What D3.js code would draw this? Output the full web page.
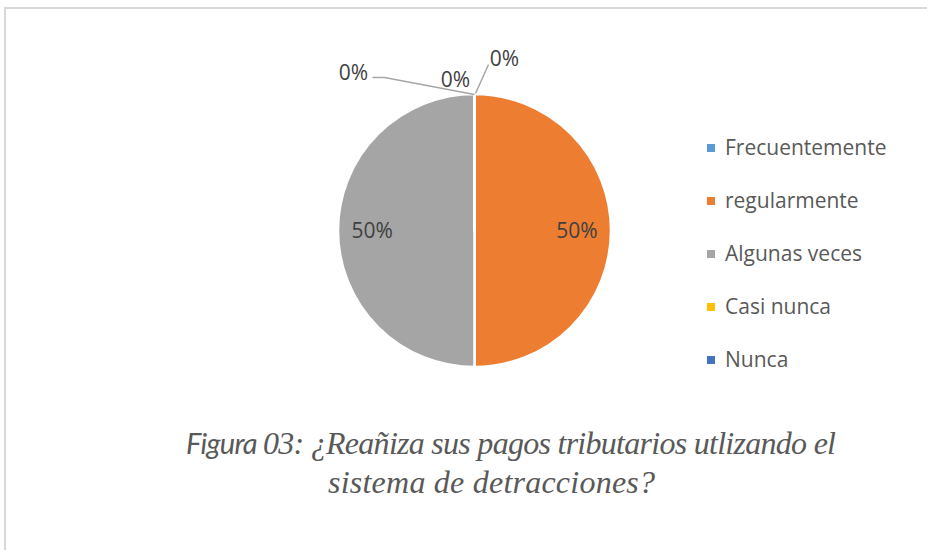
<!DOCTYPE html>
<html><head><meta charset="utf-8">
<script src="https://cdn.jsdelivr.net/npm/d3@7"></script>
<style>body{margin:0;background:#fff}svg{display:block}</style>
</head><body>
<svg id="c" width="927" height="550"></svg>
<script>
const categories = ["Frecuentemente","regularmente","Algunas veces","Casi nunca","Nunca"];
const values = [0, 50, 50, 0, 0];
const colors = ["#5B9BD5","#ED7D31","#A5A5A5","#FFC000","#4472C4"];
const captionPrefix = "Figura ";
const captionLine1 = "03: ¿Reañiza sus pagos tributarios utlizando el";
const captionLine2 = "sistema de detracciones?";

const svg = d3.select("#c");
svg.append("rect").attr("x",5).attr("y",8).attr("width",940).attr("height",560)
  .attr("fill","#fff").attr("stroke","#d9d9d9").attr("stroke-width",2);

const cx = 474.5, cy = 230.5, r = 136.5;
const total = d3.sum(values);
const pie = d3.pie().sort(null).value(d=>d)(values);
const arc = d3.arc().innerRadius(0).outerRadius(r);
const g = svg.append("g").attr("transform",`translate(${cx},${cy})`);
g.selectAll("path").data(pie).join("path")
  .attr("d",arc).attr("fill",(d,i)=>colors[i])
  .attr("stroke","#fff").attr("stroke-width",2.5).attr("stroke-linejoin","round");

const lblFont = "'Open Sans', 'Noto Sans', sans-serif";
const fmt = v => Math.round(v/total*100)+"%";
const labelArc = d3.arc().innerRadius(r*0.75).outerRadius(r*0.75);
pie.forEach((d,i)=>{
  if (d.value>0){
    const c = labelArc.centroid(d);
    g.append("text").attr("x",c[0]).attr("y",c[1]).attr("dy","0.35em")
      .attr("text-anchor","middle").attr("font-family",lblFont)
      .attr("font-size",21).attr("fill","#404040").text(fmt(d.value));
  }
});
const zeroLayout = {
  0: {tx:-19, ty:-151, line:null},
  3: {tx:-121, ty:-158, line:[[-102,-153],[-90,-153],[0,-136]]},
  4: {tx:30, ty:-172, line:[[14,-166],[1,-137]]}
};
pie.forEach((d,i)=>{
  if (d.value===0 && zeroLayout[i]){
    const L = zeroLayout[i];
    if (L.line) g.append("path").attr("d",d3.line()(L.line))
      .attr("fill","none").attr("stroke","#a6a6a6").attr("stroke-width",1.5);
    g.append("text").attr("x",L.tx).attr("y",L.ty).attr("dy","0.35em")
      .attr("text-anchor","middle").attr("font-family",lblFont)
      .attr("font-size",21).attr("fill","#404040").text(fmt(d.value));
  }
});

const leg = svg.append("g");
categories.forEach((c,i)=>{
  const y = 148 + i*53;
  leg.append("rect").attr("x",707).attr("y",y-4).attr("width",8).attr("height",8).attr("fill",colors[i]);
  leg.append("text").attr("x",725).attr("y",y).attr("dy","0.35em")
    .attr("font-family",lblFont).attr("font-size",21).attr("fill","#595959").text(c);
});

// caption
const l1 = svg.append("text").attr("x",186).attr("y",454)
  .attr("fill","#595959").attr("font-size",32).attr("font-style","italic").attr("font-weight",400)
  .attr("textLength",650).attr("lengthAdjust","spacing");
l1.append("tspan").attr("font-family","Lato, sans-serif").attr("font-size",29).text(captionPrefix);
l1.append("tspan").attr("font-family","'Liberation Serif', serif").text(captionLine1);
svg.append("text").attr("x",328).attr("y",493)
  .attr("fill","#595959").attr("font-size",32).attr("font-style","italic").attr("font-weight",400)
  .attr("font-family","'Liberation Serif', serif")
  .attr("textLength",327).attr("lengthAdjust","spacing").text(captionLine2);
</script>
</body></html>
